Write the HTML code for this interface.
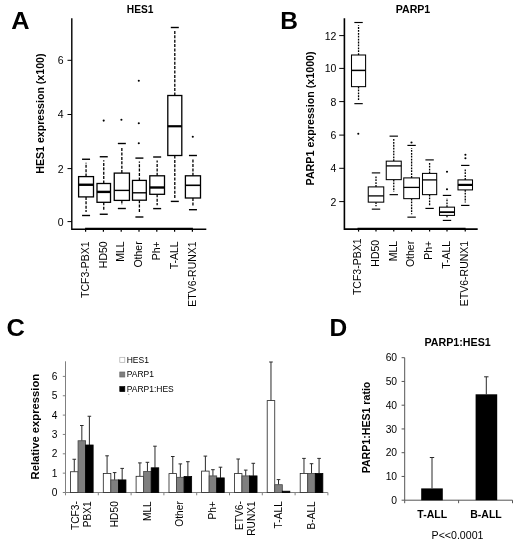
<!DOCTYPE html>
<html lang="en"><head><meta charset="utf-8"><title>HES1 and PARP1 expression</title>
<style>
html,body{margin:0;padding:0;background:#fff;}
body{width:520px;height:546px;overflow:hidden;font-family:"Liberation Sans",Arial,sans-serif;}
svg{display:block;}
</style></head><body>
<svg width="520" height="546" viewBox="0 0 520 546" font-family="'Liberation Sans', Arial, sans-serif" fill="#000">
<rect width="520" height="546" fill="#fff"/>
<text x="11.2" y="29.2" font-size="24.5" font-weight="bold" textLength="18.3" lengthAdjust="spacingAndGlyphs">A</text>
<text x="280.2" y="28.8" font-size="24.5" font-weight="bold">B</text>
<text x="6.4" y="336.2" font-size="24.5" font-weight="bold" textLength="18.4" lengthAdjust="spacingAndGlyphs">C</text>
<text x="329.5" y="335.8" font-size="24.5" font-weight="bold">D</text>
<text x="140.1" y="13.1" font-size="10.2" font-weight="bold" text-anchor="middle">HES1</text>
<path d="M71.8 18.2 V229.2 H206.3" fill="none" stroke="#000" stroke-width="1.4"/>
<line x1="67.5" x2="72" y1="221.6" y2="221.6" stroke="#000" stroke-width="1"/>
<text x="63.6" y="225.50" font-size="10.5" text-anchor="end">0</text>
<line x1="67.5" x2="72" y1="168.6" y2="168.6" stroke="#000" stroke-width="1"/>
<text x="63.6" y="172.50" font-size="10.5" text-anchor="end">2</text>
<line x1="67.5" x2="72" y1="114.5" y2="114.5" stroke="#000" stroke-width="1"/>
<text x="63.6" y="118.40" font-size="10.5" text-anchor="end">4</text>
<line x1="67.5" x2="72" y1="60.3" y2="60.3" stroke="#000" stroke-width="1"/>
<text x="63.6" y="64.20" font-size="10.5" text-anchor="end">6</text>
<text transform="translate(43.6 113.6) rotate(-90)" font-size="10.6" font-weight="bold" text-anchor="middle">HES1 expression (x100)</text>
<line x1="85.1" x2="192.9" y1="228.85" y2="228.85" stroke="#000" stroke-width="2.3"/>
<line x1="85.60" x2="85.60" y1="229.3" y2="231.8" stroke="#000" stroke-width="1.2"/>
<line x1="103.40" x2="103.40" y1="229.3" y2="231.8" stroke="#000" stroke-width="1.2"/>
<line x1="121.20" x2="121.20" y1="229.3" y2="231.8" stroke="#000" stroke-width="1.2"/>
<line x1="139.00" x2="139.00" y1="229.3" y2="231.8" stroke="#000" stroke-width="1.2"/>
<line x1="156.80" x2="156.80" y1="229.3" y2="231.8" stroke="#000" stroke-width="1.2"/>
<line x1="174.60" x2="174.60" y1="229.3" y2="231.8" stroke="#000" stroke-width="1.2"/>
<line x1="192.40" x2="192.40" y1="229.3" y2="231.8" stroke="#000" stroke-width="1.2"/>
<text transform="translate(88.85 241.3) rotate(-90)" font-size="10.5" text-anchor="end">TCF3-PBX1</text>
<text transform="translate(106.63 241.3) rotate(-90)" font-size="10.5" text-anchor="end">HD50</text>
<text transform="translate(124.41 241.3) rotate(-90)" font-size="10.5" text-anchor="end">MLL</text>
<text transform="translate(142.19 241.3) rotate(-90)" font-size="10.5" text-anchor="end">Other</text>
<text transform="translate(159.97 241.3) rotate(-90)" font-size="10.5" text-anchor="end">Ph+</text>
<text transform="translate(177.75 241.3) rotate(-90)" font-size="10.5" text-anchor="end">T-ALL</text>
<text transform="translate(195.53 241.3) rotate(-90)" font-size="10.5" text-anchor="end">ETV6-RUNX1</text>
<line x1="86.05" x2="86.05" y1="176.60" y2="162.65" stroke="#000" stroke-width="1.3" stroke-dasharray="3 1.4"/>
<line x1="86.05" x2="86.05" y1="196.90" y2="212.10" stroke="#000" stroke-width="1.3" stroke-dasharray="3 1.4"/>
<rect x="78.60" y="176.60" width="14.90" height="20.30" fill="#fff" stroke="#000" stroke-width="1.3"/>
<line x1="78.60" x2="93.50" y1="184.75" y2="184.75" stroke="#000" stroke-width="2.4"/>
<line x1="82.05" x2="90.05" y1="159.25" y2="159.25" stroke="#000" stroke-width="1.4000000000000001"/>
<line x1="82.05" x2="90.05" y1="215.50" y2="215.50" stroke="#000" stroke-width="1.4000000000000001"/>
<line x1="103.75" x2="103.75" y1="183.50" y2="160.15" stroke="#000" stroke-width="1.3" stroke-dasharray="3 1.4"/>
<line x1="103.75" x2="103.75" y1="202.30" y2="210.85" stroke="#000" stroke-width="1.3" stroke-dasharray="3 1.4"/>
<rect x="97.00" y="183.50" width="13.50" height="18.80" fill="#fff" stroke="#000" stroke-width="1.3"/>
<line x1="97.00" x2="110.50" y1="191.90" y2="191.90" stroke="#000" stroke-width="2.4"/>
<line x1="99.75" x2="107.75" y1="156.75" y2="156.75" stroke="#000" stroke-width="1.4000000000000001"/>
<line x1="99.75" x2="107.75" y1="214.25" y2="214.25" stroke="#000" stroke-width="1.4000000000000001"/>
<line x1="121.85" x2="121.85" y1="173.10" y2="146.90" stroke="#000" stroke-width="1.3" stroke-dasharray="3 1.4"/>
<line x1="121.85" x2="121.85" y1="200.40" y2="205.10" stroke="#000" stroke-width="1.3" stroke-dasharray="3 1.4"/>
<rect x="114.25" y="173.10" width="15.20" height="27.30" fill="#fff" stroke="#000" stroke-width="1.3"/>
<line x1="114.25" x2="129.45" y1="190.40" y2="190.40" stroke="#000" stroke-width="1.4"/>
<line x1="117.85" x2="125.85" y1="143.50" y2="143.50" stroke="#000" stroke-width="1.4000000000000001"/>
<line x1="117.85" x2="125.85" y1="208.50" y2="208.50" stroke="#000" stroke-width="1.4000000000000001"/>
<line x1="139.40" x2="139.40" y1="180.40" y2="161.50" stroke="#000" stroke-width="1.3" stroke-dasharray="3 1.4"/>
<line x1="139.40" x2="139.40" y1="200.20" y2="213.60" stroke="#000" stroke-width="1.3" stroke-dasharray="3 1.4"/>
<rect x="132.50" y="180.40" width="13.80" height="19.80" fill="#fff" stroke="#000" stroke-width="1.3"/>
<line x1="132.50" x2="146.30" y1="192.80" y2="192.80" stroke="#000" stroke-width="1.4"/>
<line x1="135.40" x2="143.40" y1="158.10" y2="158.10" stroke="#000" stroke-width="1.4000000000000001"/>
<line x1="135.40" x2="143.40" y1="217.00" y2="217.00" stroke="#000" stroke-width="1.4000000000000001"/>
<line x1="157.15" x2="157.15" y1="175.80" y2="160.40" stroke="#000" stroke-width="1.3" stroke-dasharray="3 1.4"/>
<line x1="157.15" x2="157.15" y1="194.30" y2="205.20" stroke="#000" stroke-width="1.3" stroke-dasharray="3 1.4"/>
<rect x="149.80" y="175.80" width="14.70" height="18.50" fill="#fff" stroke="#000" stroke-width="1.3"/>
<line x1="149.80" x2="164.50" y1="187.50" y2="187.50" stroke="#000" stroke-width="2.4"/>
<line x1="153.15" x2="161.15" y1="157.00" y2="157.00" stroke="#000" stroke-width="1.4000000000000001"/>
<line x1="153.15" x2="161.15" y1="208.60" y2="208.60" stroke="#000" stroke-width="1.4000000000000001"/>
<line x1="174.80" x2="174.80" y1="95.50" y2="30.90" stroke="#000" stroke-width="1.3" stroke-dasharray="3 1.4"/>
<line x1="174.80" x2="174.80" y1="155.50" y2="198.00" stroke="#000" stroke-width="1.3" stroke-dasharray="3 1.4"/>
<rect x="167.80" y="95.50" width="14.00" height="60.00" fill="#fff" stroke="#000" stroke-width="1.3"/>
<line x1="167.80" x2="181.80" y1="126.25" y2="126.25" stroke="#000" stroke-width="2.2"/>
<line x1="170.80" x2="178.80" y1="27.50" y2="27.50" stroke="#000" stroke-width="1.4000000000000001"/>
<line x1="170.80" x2="178.80" y1="201.40" y2="201.40" stroke="#000" stroke-width="1.4000000000000001"/>
<line x1="192.95" x2="192.95" y1="175.80" y2="158.90" stroke="#000" stroke-width="1.3" stroke-dasharray="3 1.4"/>
<line x1="192.95" x2="192.95" y1="198.00" y2="206.30" stroke="#000" stroke-width="1.3" stroke-dasharray="3 1.4"/>
<rect x="185.40" y="175.80" width="15.10" height="22.20" fill="#fff" stroke="#000" stroke-width="1.3"/>
<line x1="185.40" x2="200.50" y1="185.30" y2="185.30" stroke="#000" stroke-width="1.6"/>
<line x1="188.95" x2="196.95" y1="155.50" y2="155.50" stroke="#000" stroke-width="1.4000000000000001"/>
<line x1="188.95" x2="196.95" y1="209.70" y2="209.70" stroke="#000" stroke-width="1.4000000000000001"/>
<circle cx="103.70" cy="120.60" r="1.05" fill="#000"/>
<circle cx="121.40" cy="119.80" r="1.05" fill="#000"/>
<circle cx="138.80" cy="80.70" r="1.05" fill="#000"/>
<circle cx="138.80" cy="123.20" r="1.05" fill="#000"/>
<circle cx="138.80" cy="143.20" r="1.05" fill="#000"/>
<circle cx="192.80" cy="136.80" r="1.05" fill="#000"/>
<text x="413" y="13.1" font-size="10.6" font-weight="bold" text-anchor="middle">PARP1</text>
<path d="M344.4 18.2 V229.1 H477.7" fill="none" stroke="#000" stroke-width="1.6"/>
<line x1="339.2" x2="344.4" y1="201.6" y2="201.6" stroke="#000" stroke-width="1"/>
<text x="336.4" y="205.50" font-size="10.5" text-anchor="end">2</text>
<line x1="339.2" x2="344.4" y1="168.3" y2="168.3" stroke="#000" stroke-width="1"/>
<text x="336.4" y="172.20" font-size="10.5" text-anchor="end">4</text>
<line x1="339.2" x2="344.4" y1="135.1" y2="135.1" stroke="#000" stroke-width="1"/>
<text x="336.4" y="139.00" font-size="10.5" text-anchor="end">6</text>
<line x1="339.2" x2="344.4" y1="101.6" y2="101.6" stroke="#000" stroke-width="1"/>
<text x="336.4" y="105.50" font-size="10.5" text-anchor="end">8</text>
<line x1="339.2" x2="344.4" y1="68.4" y2="68.4" stroke="#000" stroke-width="1"/>
<text x="336.4" y="72.30" font-size="10.5" text-anchor="end">10</text>
<line x1="339.2" x2="344.4" y1="35.6" y2="35.6" stroke="#000" stroke-width="1"/>
<text x="336.4" y="39.50" font-size="10.5" text-anchor="end">12</text>
<text transform="translate(314.2 118.4) rotate(-90)" font-size="10.7" font-weight="bold" text-anchor="middle">PARP1 expression (x1000)</text>
<line x1="358.55" x2="358.55" y1="55.00" y2="25.30" stroke="#000" stroke-width="1.3" stroke-dasharray="1.8 1.1"/>
<line x1="358.55" x2="358.55" y1="86.65" y2="100.85" stroke="#000" stroke-width="1.3" stroke-dasharray="1.8 1.1"/>
<rect x="351.50" y="55.00" width="14.10" height="31.65" fill="#fff" stroke="#000" stroke-width="1.05"/>
<line x1="351.50" x2="365.60" y1="70.40" y2="70.40" stroke="#000" stroke-width="1.5"/>
<line x1="354.35" x2="362.75" y1="22.50" y2="22.50" stroke="#000" stroke-width="1.1500000000000001"/>
<line x1="354.35" x2="362.75" y1="103.65" y2="103.65" stroke="#000" stroke-width="1.1500000000000001"/>
<line x1="376.00" x2="376.00" y1="186.90" y2="175.70" stroke="#000" stroke-width="1.3" stroke-dasharray="1.8 1.1"/>
<line x1="376.00" x2="376.00" y1="202.15" y2="206.35" stroke="#000" stroke-width="1.3" stroke-dasharray="1.8 1.1"/>
<rect x="368.25" y="186.90" width="15.50" height="15.25" fill="#fff" stroke="#000" stroke-width="1.05"/>
<line x1="368.25" x2="383.75" y1="195.90" y2="195.90" stroke="#000" stroke-width="1.3"/>
<line x1="371.80" x2="380.20" y1="172.90" y2="172.90" stroke="#000" stroke-width="1.1500000000000001"/>
<line x1="371.80" x2="380.20" y1="209.15" y2="209.15" stroke="#000" stroke-width="1.1500000000000001"/>
<line x1="393.75" x2="393.75" y1="161.15" y2="138.95" stroke="#000" stroke-width="1.3" stroke-dasharray="1.8 1.1"/>
<line x1="393.75" x2="393.75" y1="179.65" y2="191.85" stroke="#000" stroke-width="1.3" stroke-dasharray="1.8 1.1"/>
<rect x="386.25" y="161.15" width="15.00" height="18.50" fill="#fff" stroke="#000" stroke-width="1.05"/>
<line x1="386.25" x2="401.25" y1="165.90" y2="165.90" stroke="#000" stroke-width="1.3"/>
<line x1="389.55" x2="397.95" y1="136.15" y2="136.15" stroke="#000" stroke-width="1.1500000000000001"/>
<line x1="389.55" x2="397.95" y1="194.65" y2="194.65" stroke="#000" stroke-width="1.1500000000000001"/>
<line x1="411.60" x2="411.60" y1="177.90" y2="148.20" stroke="#000" stroke-width="1.3" stroke-dasharray="1.8 1.1"/>
<line x1="411.60" x2="411.60" y1="198.65" y2="214.35" stroke="#000" stroke-width="1.3" stroke-dasharray="1.8 1.1"/>
<rect x="403.75" y="177.90" width="15.70" height="20.75" fill="#fff" stroke="#000" stroke-width="1.05"/>
<line x1="403.75" x2="419.45" y1="187.40" y2="187.40" stroke="#000" stroke-width="1.3"/>
<line x1="407.40" x2="415.80" y1="145.40" y2="145.40" stroke="#000" stroke-width="1.1500000000000001"/>
<line x1="407.40" x2="415.80" y1="217.15" y2="217.15" stroke="#000" stroke-width="1.1500000000000001"/>
<line x1="429.60" x2="429.60" y1="173.40" y2="162.70" stroke="#000" stroke-width="1.3" stroke-dasharray="1.8 1.1"/>
<line x1="429.60" x2="429.60" y1="194.65" y2="205.60" stroke="#000" stroke-width="1.3" stroke-dasharray="1.8 1.1"/>
<rect x="422.50" y="173.40" width="14.20" height="21.25" fill="#fff" stroke="#000" stroke-width="1.05"/>
<line x1="422.50" x2="436.70" y1="179.90" y2="179.90" stroke="#000" stroke-width="1.3"/>
<line x1="425.40" x2="433.80" y1="159.90" y2="159.90" stroke="#000" stroke-width="1.1500000000000001"/>
<line x1="425.40" x2="433.80" y1="208.40" y2="208.40" stroke="#000" stroke-width="1.1500000000000001"/>
<line x1="447.00" x2="447.00" y1="207.15" y2="198.20" stroke="#000" stroke-width="1.3" stroke-dasharray="1.8 1.1"/>
<line x1="447.00" x2="447.00" y1="215.40" y2="217.60" stroke="#000" stroke-width="1.3" stroke-dasharray="1.8 1.1"/>
<rect x="439.50" y="207.15" width="15.00" height="8.25" fill="#fff" stroke="#000" stroke-width="1.05"/>
<line x1="439.50" x2="454.50" y1="212.15" y2="212.15" stroke="#000" stroke-width="1.8"/>
<line x1="442.80" x2="451.20" y1="195.40" y2="195.40" stroke="#000" stroke-width="1.1500000000000001"/>
<line x1="442.80" x2="451.20" y1="220.40" y2="220.40" stroke="#000" stroke-width="1.1500000000000001"/>
<line x1="465.25" x2="465.25" y1="179.90" y2="168.20" stroke="#000" stroke-width="1.3" stroke-dasharray="1.8 1.1"/>
<line x1="465.25" x2="465.25" y1="189.90" y2="202.60" stroke="#000" stroke-width="1.3" stroke-dasharray="1.8 1.1"/>
<rect x="458.00" y="179.90" width="14.50" height="10.00" fill="#fff" stroke="#000" stroke-width="1.05"/>
<line x1="458.00" x2="472.50" y1="184.90" y2="184.90" stroke="#000" stroke-width="2.2"/>
<line x1="461.05" x2="469.45" y1="165.40" y2="165.40" stroke="#000" stroke-width="1.1500000000000001"/>
<line x1="461.05" x2="469.45" y1="205.40" y2="205.40" stroke="#000" stroke-width="1.1500000000000001"/>
<circle cx="358.30" cy="133.70" r="1.05" fill="#000"/>
<circle cx="411.50" cy="142.50" r="1.05" fill="#000"/>
<circle cx="447.00" cy="171.80" r="1.05" fill="#000"/>
<circle cx="447.00" cy="189.30" r="1.05" fill="#000"/>
<circle cx="465.40" cy="154.80" r="1.05" fill="#000"/>
<circle cx="465.40" cy="158.20" r="1.05" fill="#000"/>
<line x1="357.5" x2="465.6" y1="228.9" y2="228.9" stroke="#000" stroke-width="2.1"/>
<line x1="358.55" x2="358.55" y1="229.2" y2="231.6" stroke="#000" stroke-width="1.2"/>
<text transform="translate(360.95 238.5) rotate(-90)" font-size="10.5" text-anchor="end">TCF3-PBX1</text>
<line x1="376.00" x2="376.00" y1="229.2" y2="231.6" stroke="#000" stroke-width="1.2"/>
<text transform="translate(378.78 239.8) rotate(-90)" font-size="10.5" text-anchor="end">HD50</text>
<line x1="393.75" x2="393.75" y1="229.2" y2="231.6" stroke="#000" stroke-width="1.2"/>
<text transform="translate(396.61 240.8) rotate(-90)" font-size="10.5" text-anchor="end">MLL</text>
<line x1="411.60" x2="411.60" y1="229.2" y2="231.6" stroke="#000" stroke-width="1.2"/>
<text transform="translate(414.44 240.8) rotate(-90)" font-size="10.5" text-anchor="end">Other</text>
<line x1="429.60" x2="429.60" y1="229.2" y2="231.6" stroke="#000" stroke-width="1.2"/>
<text transform="translate(432.27 240.8) rotate(-90)" font-size="10.5" text-anchor="end">Ph+</text>
<line x1="447.00" x2="447.00" y1="229.2" y2="231.6" stroke="#000" stroke-width="1.2"/>
<text transform="translate(450.10 240.8) rotate(-90)" font-size="10.5" text-anchor="end">T-ALL</text>
<line x1="465.25" x2="465.25" y1="229.2" y2="231.6" stroke="#000" stroke-width="1.2"/>
<text transform="translate(467.93 240.8) rotate(-90)" font-size="10.5" text-anchor="end">ETV6-RUNX1</text>
<path d="M65.5 361.3 V492.5 H327.8" fill="none" stroke="#808080" stroke-width="1"/>
<line x1="62.8" x2="65.5" y1="492.50" y2="492.50" stroke="#808080" stroke-width="1"/>
<text x="57.4" y="496.10" font-size="10.2" text-anchor="end">0</text>
<line x1="62.8" x2="65.5" y1="473.15" y2="473.15" stroke="#808080" stroke-width="1"/>
<text x="57.4" y="476.75" font-size="10.2" text-anchor="end">1</text>
<line x1="62.8" x2="65.5" y1="453.80" y2="453.80" stroke="#808080" stroke-width="1"/>
<text x="57.4" y="457.40" font-size="10.2" text-anchor="end">2</text>
<line x1="62.8" x2="65.5" y1="434.45" y2="434.45" stroke="#808080" stroke-width="1"/>
<text x="57.4" y="438.05" font-size="10.2" text-anchor="end">3</text>
<line x1="62.8" x2="65.5" y1="415.10" y2="415.10" stroke="#808080" stroke-width="1"/>
<text x="57.4" y="418.70" font-size="10.2" text-anchor="end">4</text>
<line x1="62.8" x2="65.5" y1="395.75" y2="395.75" stroke="#808080" stroke-width="1"/>
<text x="57.4" y="399.35" font-size="10.2" text-anchor="end">5</text>
<line x1="62.8" x2="65.5" y1="376.40" y2="376.40" stroke="#808080" stroke-width="1"/>
<text x="57.4" y="380.00" font-size="10.2" text-anchor="end">6</text>
<line x1="65.50" x2="65.50" y1="492.5" y2="495.3" stroke="#808080" stroke-width="1"/>
<line x1="98.30" x2="98.30" y1="492.5" y2="495.3" stroke="#808080" stroke-width="1"/>
<line x1="131.10" x2="131.10" y1="492.5" y2="495.3" stroke="#808080" stroke-width="1"/>
<line x1="163.90" x2="163.90" y1="492.5" y2="495.3" stroke="#808080" stroke-width="1"/>
<line x1="196.70" x2="196.70" y1="492.5" y2="495.3" stroke="#808080" stroke-width="1"/>
<line x1="229.50" x2="229.50" y1="492.5" y2="495.3" stroke="#808080" stroke-width="1"/>
<line x1="262.30" x2="262.30" y1="492.5" y2="495.3" stroke="#808080" stroke-width="1"/>
<line x1="295.10" x2="295.10" y1="492.5" y2="495.3" stroke="#808080" stroke-width="1"/>
<line x1="327.90" x2="327.90" y1="492.5" y2="495.3" stroke="#808080" stroke-width="1"/>
<text transform="translate(38.9 426.6) rotate(-90)" font-size="11.25" font-weight="bold" text-anchor="middle">Relative expression</text>
<line x1="74.28" x2="74.28" y1="459.25" y2="471.75" stroke="#2a2a2a" stroke-width="1"/>
<line x1="72.48" x2="76.08" y1="459.25" y2="459.25" stroke="#2a2a2a" stroke-width="1"/>
<rect x="70.50" y="471.75" width="7.55" height="20.75" fill="#fff" stroke="#222" stroke-width="0.8"/>
<line x1="81.83" x2="81.83" y1="425.50" y2="440.75" stroke="#2a2a2a" stroke-width="1"/>
<line x1="80.03" x2="83.62" y1="425.50" y2="425.50" stroke="#2a2a2a" stroke-width="1"/>
<rect x="78.05" y="440.75" width="7.55" height="51.75" fill="#7f7f7f" stroke="#444" stroke-width="0.8"/>
<line x1="89.38" x2="89.38" y1="416.25" y2="445.00" stroke="#2a2a2a" stroke-width="1"/>
<line x1="87.58" x2="91.17" y1="416.25" y2="416.25" stroke="#2a2a2a" stroke-width="1"/>
<rect x="85.60" y="445.00" width="7.55" height="47.50" fill="#000" stroke="#000" stroke-width="0.8"/>
<line x1="107.08" x2="107.08" y1="455.80" y2="473.40" stroke="#2a2a2a" stroke-width="1"/>
<line x1="105.28" x2="108.88" y1="455.80" y2="455.80" stroke="#2a2a2a" stroke-width="1"/>
<rect x="103.30" y="473.40" width="7.55" height="19.10" fill="#fff" stroke="#222" stroke-width="0.8"/>
<line x1="114.62" x2="114.62" y1="472.60" y2="479.90" stroke="#2a2a2a" stroke-width="1"/>
<line x1="112.83" x2="116.42" y1="472.60" y2="472.60" stroke="#2a2a2a" stroke-width="1"/>
<rect x="110.85" y="479.90" width="7.55" height="12.60" fill="#7f7f7f" stroke="#444" stroke-width="0.8"/>
<line x1="122.17" x2="122.17" y1="468.40" y2="479.90" stroke="#2a2a2a" stroke-width="1"/>
<line x1="120.38" x2="123.97" y1="468.40" y2="468.40" stroke="#2a2a2a" stroke-width="1"/>
<rect x="118.40" y="479.90" width="7.55" height="12.60" fill="#000" stroke="#000" stroke-width="0.8"/>
<line x1="139.88" x2="139.88" y1="462.90" y2="476.30" stroke="#2a2a2a" stroke-width="1"/>
<line x1="138.07" x2="141.68" y1="462.90" y2="462.90" stroke="#2a2a2a" stroke-width="1"/>
<rect x="136.10" y="476.30" width="7.55" height="16.20" fill="#fff" stroke="#222" stroke-width="0.8"/>
<line x1="147.43" x2="147.43" y1="462.30" y2="471.50" stroke="#2a2a2a" stroke-width="1"/>
<line x1="145.62" x2="149.23" y1="462.30" y2="462.30" stroke="#2a2a2a" stroke-width="1"/>
<rect x="143.65" y="471.50" width="7.55" height="21.00" fill="#7f7f7f" stroke="#444" stroke-width="0.8"/>
<line x1="154.97" x2="154.97" y1="446.20" y2="467.80" stroke="#2a2a2a" stroke-width="1"/>
<line x1="153.17" x2="156.78" y1="446.20" y2="446.20" stroke="#2a2a2a" stroke-width="1"/>
<rect x="151.20" y="467.80" width="7.55" height="24.70" fill="#000" stroke="#000" stroke-width="0.8"/>
<line x1="172.78" x2="172.78" y1="456.50" y2="473.60" stroke="#2a2a2a" stroke-width="1"/>
<line x1="170.97" x2="174.58" y1="456.50" y2="456.50" stroke="#2a2a2a" stroke-width="1"/>
<rect x="169.00" y="473.60" width="7.55" height="18.90" fill="#fff" stroke="#222" stroke-width="0.8"/>
<line x1="180.33" x2="180.33" y1="463.90" y2="477.30" stroke="#2a2a2a" stroke-width="1"/>
<line x1="178.53" x2="182.13" y1="463.90" y2="463.90" stroke="#2a2a2a" stroke-width="1"/>
<rect x="176.55" y="477.30" width="7.55" height="15.20" fill="#7f7f7f" stroke="#444" stroke-width="0.8"/>
<line x1="187.88" x2="187.88" y1="461.70" y2="476.50" stroke="#2a2a2a" stroke-width="1"/>
<line x1="186.07" x2="189.68" y1="461.70" y2="461.70" stroke="#2a2a2a" stroke-width="1"/>
<rect x="184.10" y="476.50" width="7.55" height="16.00" fill="#000" stroke="#000" stroke-width="0.8"/>
<line x1="205.38" x2="205.38" y1="456.10" y2="471.10" stroke="#2a2a2a" stroke-width="1"/>
<line x1="203.57" x2="207.18" y1="456.10" y2="456.10" stroke="#2a2a2a" stroke-width="1"/>
<rect x="201.60" y="471.10" width="7.55" height="21.40" fill="#fff" stroke="#222" stroke-width="0.8"/>
<line x1="212.93" x2="212.93" y1="469.70" y2="475.90" stroke="#2a2a2a" stroke-width="1"/>
<line x1="211.12" x2="214.73" y1="469.70" y2="469.70" stroke="#2a2a2a" stroke-width="1"/>
<rect x="209.15" y="475.90" width="7.55" height="16.60" fill="#7f7f7f" stroke="#444" stroke-width="0.8"/>
<line x1="220.47" x2="220.47" y1="467.20" y2="477.90" stroke="#2a2a2a" stroke-width="1"/>
<line x1="218.67" x2="222.28" y1="467.20" y2="467.20" stroke="#2a2a2a" stroke-width="1"/>
<rect x="216.70" y="477.90" width="7.55" height="14.60" fill="#000" stroke="#000" stroke-width="0.8"/>
<line x1="238.18" x2="238.18" y1="459.00" y2="473.60" stroke="#2a2a2a" stroke-width="1"/>
<line x1="236.38" x2="239.98" y1="459.00" y2="459.00" stroke="#2a2a2a" stroke-width="1"/>
<rect x="234.40" y="473.60" width="7.55" height="18.90" fill="#fff" stroke="#222" stroke-width="0.8"/>
<line x1="245.73" x2="245.73" y1="470.10" y2="475.90" stroke="#2a2a2a" stroke-width="1"/>
<line x1="243.93" x2="247.53" y1="470.10" y2="470.10" stroke="#2a2a2a" stroke-width="1"/>
<rect x="241.95" y="475.90" width="7.55" height="16.60" fill="#7f7f7f" stroke="#444" stroke-width="0.8"/>
<line x1="253.28" x2="253.28" y1="463.30" y2="475.90" stroke="#2a2a2a" stroke-width="1"/>
<line x1="251.47" x2="255.08" y1="463.30" y2="463.30" stroke="#2a2a2a" stroke-width="1"/>
<rect x="249.50" y="475.90" width="7.55" height="16.60" fill="#000" stroke="#000" stroke-width="0.8"/>
<line x1="270.97" x2="270.97" y1="362.00" y2="400.60" stroke="#2a2a2a" stroke-width="1"/>
<line x1="269.17" x2="272.77" y1="362.00" y2="362.00" stroke="#2a2a2a" stroke-width="1"/>
<rect x="267.20" y="400.60" width="7.55" height="91.90" fill="#fff" stroke="#222" stroke-width="0.8"/>
<line x1="278.52" x2="278.52" y1="479.60" y2="484.70" stroke="#2a2a2a" stroke-width="1"/>
<line x1="276.72" x2="280.32" y1="479.60" y2="479.60" stroke="#2a2a2a" stroke-width="1"/>
<rect x="274.75" y="484.70" width="7.55" height="7.80" fill="#7f7f7f" stroke="#444" stroke-width="0.8"/>
<rect x="282.30" y="491.20" width="7.55" height="1.30" fill="#000" stroke="#000" stroke-width="0.8"/>
<line x1="303.97" x2="303.97" y1="458.40" y2="473.40" stroke="#2a2a2a" stroke-width="1"/>
<line x1="302.17" x2="305.77" y1="458.40" y2="458.40" stroke="#2a2a2a" stroke-width="1"/>
<rect x="300.20" y="473.40" width="7.55" height="19.10" fill="#fff" stroke="#222" stroke-width="0.8"/>
<line x1="311.52" x2="311.52" y1="463.70" y2="473.40" stroke="#2a2a2a" stroke-width="1"/>
<line x1="309.72" x2="313.32" y1="463.70" y2="463.70" stroke="#2a2a2a" stroke-width="1"/>
<rect x="307.75" y="473.40" width="7.55" height="19.10" fill="#7f7f7f" stroke="#444" stroke-width="0.8"/>
<line x1="319.07" x2="319.07" y1="458.40" y2="473.40" stroke="#2a2a2a" stroke-width="1"/>
<line x1="317.27" x2="320.88" y1="458.40" y2="458.40" stroke="#2a2a2a" stroke-width="1"/>
<rect x="315.30" y="473.40" width="7.55" height="19.10" fill="#000" stroke="#000" stroke-width="0.8"/>
<rect x="119.8" y="357.3" width="5" height="5" fill="#fff" stroke="#aaa" stroke-width="0.7"/>
<rect x="119.8" y="372" width="5" height="5" fill="#7f7f7f" stroke="#666" stroke-width="0.7"/>
<rect x="119.8" y="386.6" width="5" height="5" fill="#000" stroke="#000" stroke-width="0.7"/>
<text x="126.7" y="362.9" font-size="8.5">HES1</text>
<text x="126.7" y="377.2" font-size="8.5">PARP1</text>
<text x="126.7" y="391.9" font-size="8.5">PARP1:HES</text>
<circle cx="128.8" cy="394.2" r="0.5" fill="#666"/>
<text transform="translate(78.85 501.2) rotate(-90)" font-size="10.2" text-anchor="end">TCF3-</text>
<text transform="translate(91.15 501.2) rotate(-90)" font-size="10.2" text-anchor="end">PBX1</text>
<text transform="translate(117.80 501.2) rotate(-90)" font-size="10.2" text-anchor="end">HD50</text>
<text transform="translate(150.60 501.2) rotate(-90)" font-size="10.2" text-anchor="end">MLL</text>
<text transform="translate(183.40 501.2) rotate(-90)" font-size="10.2" text-anchor="end">Other</text>
<text transform="translate(216.20 501.2) rotate(-90)" font-size="10.2" text-anchor="end">Ph+</text>
<text transform="translate(242.85 501.2) rotate(-90)" font-size="10.2" text-anchor="end">ETV6-</text>
<text transform="translate(255.15 501.2) rotate(-90)" font-size="10.2" text-anchor="end">RUNX1</text>
<text transform="translate(281.80 501.2) rotate(-90)" font-size="10.2" text-anchor="end">T-ALL</text>
<text transform="translate(314.60 501.2) rotate(-90)" font-size="10.2" text-anchor="end">B-ALL</text>
<text x="457.6" y="346.3" font-size="10.7" font-weight="bold" text-anchor="middle">PARP1:HES1</text>
<path d="M404.7 357.70 V500.2 H512.5" fill="none" stroke="#555" stroke-width="1"/>
<line x1="401.6" x2="404.7" y1="500.20" y2="500.20" stroke="#555" stroke-width="1"/>
<text x="397.1" y="503.90" font-size="10.3" text-anchor="end">0</text>
<line x1="401.6" x2="404.7" y1="476.45" y2="476.45" stroke="#555" stroke-width="1"/>
<text x="397.1" y="480.15" font-size="10.3" text-anchor="end">10</text>
<line x1="401.6" x2="404.7" y1="452.70" y2="452.70" stroke="#555" stroke-width="1"/>
<text x="397.1" y="456.40" font-size="10.3" text-anchor="end">20</text>
<line x1="401.6" x2="404.7" y1="428.95" y2="428.95" stroke="#555" stroke-width="1"/>
<text x="397.1" y="432.65" font-size="10.3" text-anchor="end">30</text>
<line x1="401.6" x2="404.7" y1="405.20" y2="405.20" stroke="#555" stroke-width="1"/>
<text x="397.1" y="408.90" font-size="10.3" text-anchor="end">40</text>
<line x1="401.6" x2="404.7" y1="381.45" y2="381.45" stroke="#555" stroke-width="1"/>
<text x="397.1" y="385.15" font-size="10.3" text-anchor="end">50</text>
<line x1="401.6" x2="404.7" y1="357.70" y2="357.70" stroke="#555" stroke-width="1"/>
<text x="397.1" y="361.40" font-size="10.3" text-anchor="end">60</text>
<line x1="404.7" x2="404.7" y1="500.2" y2="503.2" stroke="#555" stroke-width="1"/>
<line x1="458.6" x2="458.6" y1="500.2" y2="503.2" stroke="#555" stroke-width="1"/>
<line x1="512.5" x2="512.5" y1="500.2" y2="503.2" stroke="#555" stroke-width="1"/>
<text transform="translate(369.5 427.5) rotate(-90)" font-size="10.6" font-weight="bold" text-anchor="middle">PARP1:HES1 ratio</text>
<line x1="432" x2="432" y1="457.5" y2="488.3" stroke="#2a2a2a" stroke-width="1"/>
<line x1="429.8" x2="434.2" y1="457.5" y2="457.5" stroke="#2a2a2a" stroke-width="1"/>
<rect x="421.2" y="488.4" width="21.6" height="11.90" fill="#000"/>
<line x1="486.3" x2="486.3" y1="376.8" y2="394.3" stroke="#2a2a2a" stroke-width="1"/>
<line x1="484.1" x2="488.5" y1="376.8" y2="376.8" stroke="#2a2a2a" stroke-width="1"/>
<rect x="475.6" y="394.3" width="21.6" height="105.90" fill="#000"/>
<text x="432.2" y="517.8" font-size="10.5" font-weight="bold" text-anchor="middle">T-ALL</text>
<text x="486" y="517.8" font-size="10.5" font-weight="bold" text-anchor="middle">B-ALL</text>
<text x="457.5" y="538.5" font-size="10.6" text-anchor="middle">P&lt;&lt;0.0001</text>
</svg>
</body></html>
